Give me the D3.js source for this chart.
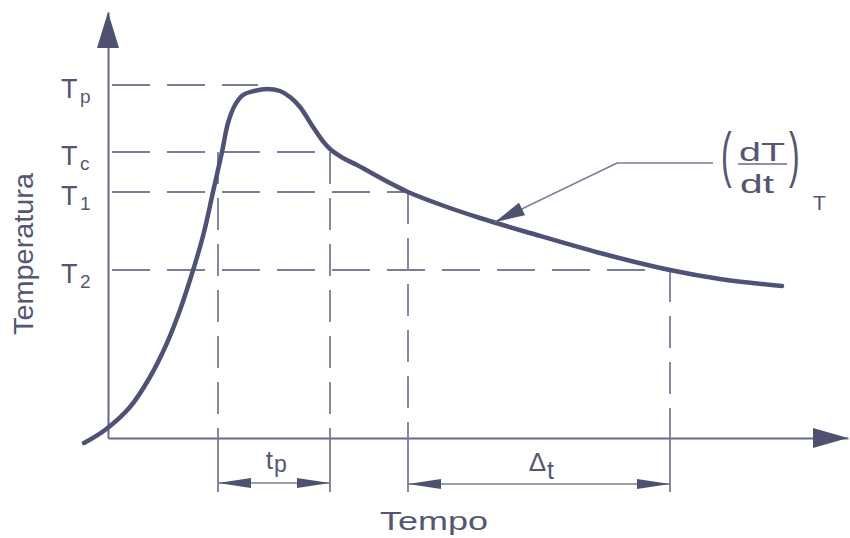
<!DOCTYPE html>
<html>
<head>
<meta charset="utf-8">
<script src="https://cdn.jsdelivr.net/npm/d3@7"></script>
<style>
  html, body { margin: 0; padding: 0; background: #fff; }
  svg { display: block; }
  text { font-family: "Liberation Sans", Arial, sans-serif; fill: #545672; }
</style>
</head>
<body>
<svg id="chart" width="850" height="538"></svg>
<script>
// ---- data (arbitrary time / temperature units) ----
const curveTime = [-2.4, -0.3, 2.2, 4.2, 5.9, 7.2, 8.2, 9.2, 9.7, 10.5, 11.4, 12.0, 12.7, 13.5, 14.6, 15.9, 17.2, 18.2, 19.2, 20.5, 21.4, 22.2, 23.5, 24.9, 28.2, 30.0, 33.2, 37.2, 42.2, 49.2, 56.2, 61.2, 67.4];
const curveTemp = [-0.5, 0.8, 3.1, 6.1, 9.5, 12.8, 15.8, 19.1, 21.0, 24.6, 28.6, 31.5, 33.3, 34.3, 34.7, 34.9, 34.7, 34.1, 33.1, 31.1, 29.8, 28.9, 28.0, 27.3, 25.5, 24.6, 23.35, 22.0, 20.5, 18.5, 16.8, 15.9, 15.2];

const levelNames = ["T", "T", "T", "T"];
const levelSubs = ["p", "c", "1", "2"];
const levelValues = [35.3, 28.6, 24.6, 16.8];
const levelEndTimes = [15.0, 22.2, 30.0, 56.2];

const markTimes = [11.0, 22.2, 30.0, 56.2];
const markTops = [28.6, 28.6, 24.6, 16.8];

const intervals = [
  { name: "t", sub: "p", from: 11.0, to: 22.2, level: -4.5, labelAt: 16.5 },
  { name: "\u0394", sub: "t", from: 30.0, to: 56.2, level: -4.6, labelAt: 43.8 }
];

const xAxisLabel = "Tempo";
const yAxisLabel = "Temperatura";

// ---- scales ----
const svg = d3.select("#chart");
const x = d3.scaleLinear().domain([0, 74]).range([108, 848]);
const y = d3.scaleLinear().domain([0, 42.6]).range([438, 12]);

const axisColor = "#666887";
const dashColor = "#7a7c98";
const curveColor = "#4f5276";

// ---- axes ----
const gx = svg.append("g").attr("transform", `translate(0,${y(0)})`)
  .call(d3.axisBottom(x).tickValues([]).tickSizeOuter(0));
const gy = svg.append("g").attr("transform", `translate(${x(0)},0)`)
  .call(d3.axisLeft(y).tickValues([]).tickSizeOuter(0));
[gx, gy].forEach(g => g.select(".domain").attr("stroke", axisColor).attr("stroke-width", 2));

// axis arrowheads
const yTop = y.range()[1], xRight = x.range()[1];
svg.append("path")
  .attr("d", `M${x(0)},${yTop} L${x(0) - 11},${yTop + 36} L${x(0) + 11},${yTop + 36} Z`)
  .attr("fill", "#4f5170");
svg.append("path")
  .attr("d", `M${xRight},${y(0)} L${xRight - 35},${y(0) - 10} L${xRight - 35},${y(0) + 10} Z`)
  .attr("fill", "#4f5170");

// ---- horizontal dashed levels ----
svg.append("g").selectAll("line").data(levelValues).join("line")
  .attr("x1", x(0)).attr("x2", (d, i) => x(levelEndTimes[i]))
  .attr("y1", d => y(d)).attr("y2", d => y(d))
  .attr("stroke", dashColor).attr("stroke-width", 1.8)
  .attr("stroke-dasharray", "38,17").attr("stroke-dashoffset", -4);

// level labels
const lab = svg.append("g").selectAll("g").data(levelValues).join("g");
lab.append("text")
  .attr("x", 61).attr("y", d => y(d) + 13)
  .attr("font-size", 27)
  .text((d, i) => levelNames[i]);
lab.append("text")
  .attr("x", 80).attr("y", d => y(d) + 18)
  .attr("font-size", 19)
  .text((d, i) => levelSubs[i]);

// ---- vertical dashed marks ----
svg.append("g").selectAll("line").data(markTimes).join("line")
  .attr("x1", d => x(d)).attr("x2", d => x(d))
  .attr("y1", (d, i) => y(markTops[i])).attr("y2", y(0))
  .attr("stroke", dashColor).attr("stroke-width", 1.8)
  .attr("stroke-dasharray", "32,14");
// solid extensions below the axis
svg.append("g").selectAll("line").data(markTimes).join("line")
  .attr("x1", d => x(d)).attr("x2", d => x(d))
  .attr("y1", y(0)).attr("y2", y(-5.4))
  .attr("stroke", dashColor).attr("stroke-width", 1.8);

// ---- interval arrows ----
const ig = svg.append("g").selectAll("g").data(intervals).join("g");
ig.append("line")
  .attr("x1", d => x(d.from)).attr("x2", d => x(d.to))
  .attr("y1", d => y(d.level)).attr("y2", d => y(d.level))
  .attr("stroke", dashColor).attr("stroke-width", 1.6);
ig.append("path")
  .attr("d", d => {
    const yy = y(d.level), a = x(d.from), b = x(d.to);
    return `M${a},${yy} L${a + 33},${yy - 5} L${a + 33},${yy + 5} Z ` +
           `M${b},${yy} L${b - 33},${yy - 5} L${b - 33},${yy + 5} Z`;
  })
  .attr("fill", "#4f5170");
ig.append("text")
  .attr("x", d => x(d.labelAt)).attr("y", d => y(d.level) - (d.sub === "p" ? 14 : 13))
  .attr("text-anchor", "end")
  .attr("font-size", 26)
  .text(d => d.name);
ig.append("text")
  .attr("x", d => x(d.labelAt) + 1).attr("y", d => y(d.level) - (d.sub === "p" ? 11 : 5))
  .attr("font-size", d => d.sub === "p" ? 23 : 25)
  .text(d => d.sub);

// ---- curve ----
const pts = curveTime.map((t, i) => [t, curveTemp[i]]);
svg.append("path")
  .datum(pts)
  .attr("d", d3.line().x(d => x(d[0])).y(d => y(d[1])).curve(d3.curveCatmullRom.alpha(0.5)))
  .attr("fill", "none").attr("stroke", curveColor)
  .attr("stroke-width", 4.5).attr("stroke-linecap", "round").attr("stroke-linejoin", "round");

// ---- slope annotation ----
const tip = [38.7, 21.6], knee = [50.9, 27.5], lineEnd = [60.5, 27.5];
svg.append("path")
  .attr("d", `M${x(lineEnd[0])},${y(lineEnd[1])} L${x(knee[0])},${y(knee[1])} L${x(tip[0])},${y(tip[1])}`)
  .attr("fill", "none").attr("stroke", dashColor).attr("stroke-width", 1.6);
{
  const tx = x(tip[0]), ty = y(tip[1]);
  const dx = x(knee[0]) - tx, dy = y(knee[1]) - ty;
  const L = Math.hypot(dx, dy), ux = dx / L, uy = dy / L;
  const bx = tx + ux * 30, by = ty + uy * 30;
  svg.append("path")
    .attr("d", `M${tx},${ty} L${bx - uy * 7},${by + ux * 7} L${bx + uy * 7},${by - ux * 7} Z`)
    .attr("fill", "#4f5170");
}
// (dT/dt)_T
svg.append("text").attr("transform", "translate(721,175) scale(1,1.9)")
  .attr("font-size", 32).text("(");
svg.append("text").attr("transform", "translate(789,175) scale(1,1.9)")
  .attr("font-size", 32).text(")");
svg.append("text").attr("x", 739).attr("y", 161)
  .attr("font-size", 25).attr("textLength", 46).attr("lengthAdjust", "spacingAndGlyphs").text("dT");
svg.append("line").attr("x1", 738).attr("x2", 787).attr("y1", 164).attr("y2", 164)
  .attr("stroke", "#6a6c88").attr("stroke-width", 1.5);
svg.append("text").attr("x", 740).attr("y", 193)
  .attr("font-size", 25).attr("textLength", 34).attr("lengthAdjust", "spacingAndGlyphs").text("dt");
svg.append("text").attr("x", 813).attr("y", 210)
  .attr("font-size", 21).text("T");

// ---- axis titles ----
svg.append("text").attr("x", 380).attr("y", 530)
  .attr("font-size", 25).attr("textLength", 108).attr("lengthAdjust", "spacingAndGlyphs")
  .text(xAxisLabel);
svg.append("text").attr("transform", "translate(33,254) rotate(-90)")
  .attr("text-anchor", "middle").attr("font-size", 27)
  .attr("textLength", 162).attr("lengthAdjust", "spacingAndGlyphs")
  .text(yAxisLabel);
</script>
</body>
</html>
